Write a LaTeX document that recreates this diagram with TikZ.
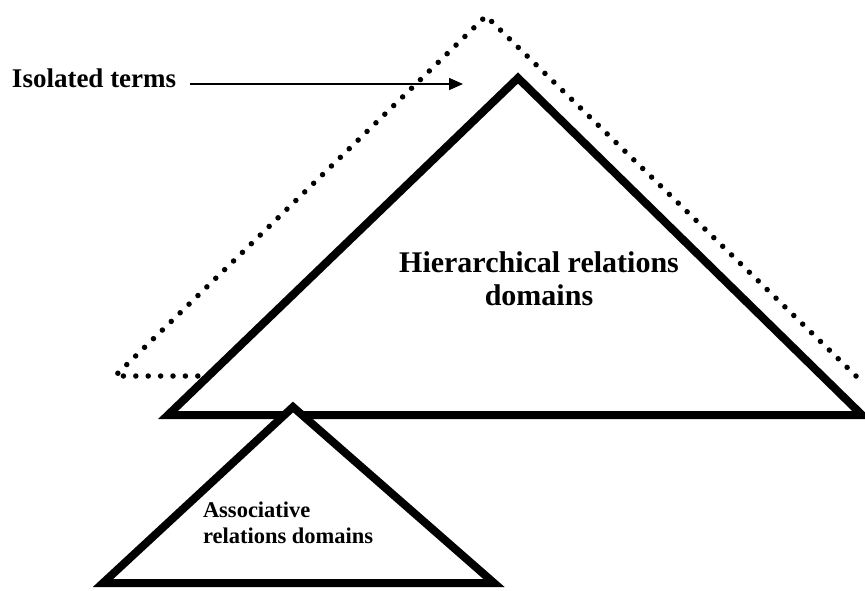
\documentclass[tikz,border=0pt]{standalone}
\usepackage{fontspec}
\setmainfont{Liberation Serif}
\usetikzlibrary{arrows.meta}
\begin{document}
\begin{tikzpicture}[x=1pt,y=-1pt,
  solidtri/.style={draw=black, line width=8pt, fill=white, line join=miter},
  dottedtri/.style={draw=black, line width=5.5pt, line cap=round, dash pattern=on 0pt off 12.4pt},
  pointer/.style={draw=black, line width=1.6pt, -{Triangle[length=14pt,width=12pt]}},
  lbl/.style={inner sep=0pt, outer sep=0pt}]
\useasboundingbox (0,0) rectangle (865,590);
% dotted triangle (isolated terms)
\coordinate (dR) at (856,376);
\coordinate (dA) at (486,16);
\coordinate (dL) at (115,376);
\coordinate (dE) at (300,376);
% label and arrow
\node[lbl, anchor=base west, font=\bfseries\fontsize{27}{30}\selectfont] (iso) at (12,87) {Isolated terms};
\coordinate (arrS) at (190,84);
\coordinate (arrE) at (463,84);
\draw[pointer] (arrS) -- (arrE);
\draw[dottedtri] (dR) -- (dA) -- (dL) -- (dE);
% big triangle
\coordinate (hA) at (518,78);
\coordinate (hL) at (168,415);
\coordinate (hR) at (862,415);
\draw[solidtri] (hA) -- (hR) -- (hL) -- cycle;
\node[lbl, anchor=base, align=center, font=\bfseries\fontsize{30}{33}\selectfont] (hier) at (539,305) {Hierarchical relations\\domains};
% small triangle
\coordinate (sA) at (293,407);
\coordinate (sL) at (103,583);
\coordinate (sR) at (494,583);
\draw[solidtri] (sA) -- (sR) -- (sL) -- cycle;
\node[lbl, anchor=base west, align=left, font=\bfseries\fontsize{22.5}{26}\selectfont] (assoc) at (203,543) {Associative\\relations domains};
\end{tikzpicture}
\end{document}
